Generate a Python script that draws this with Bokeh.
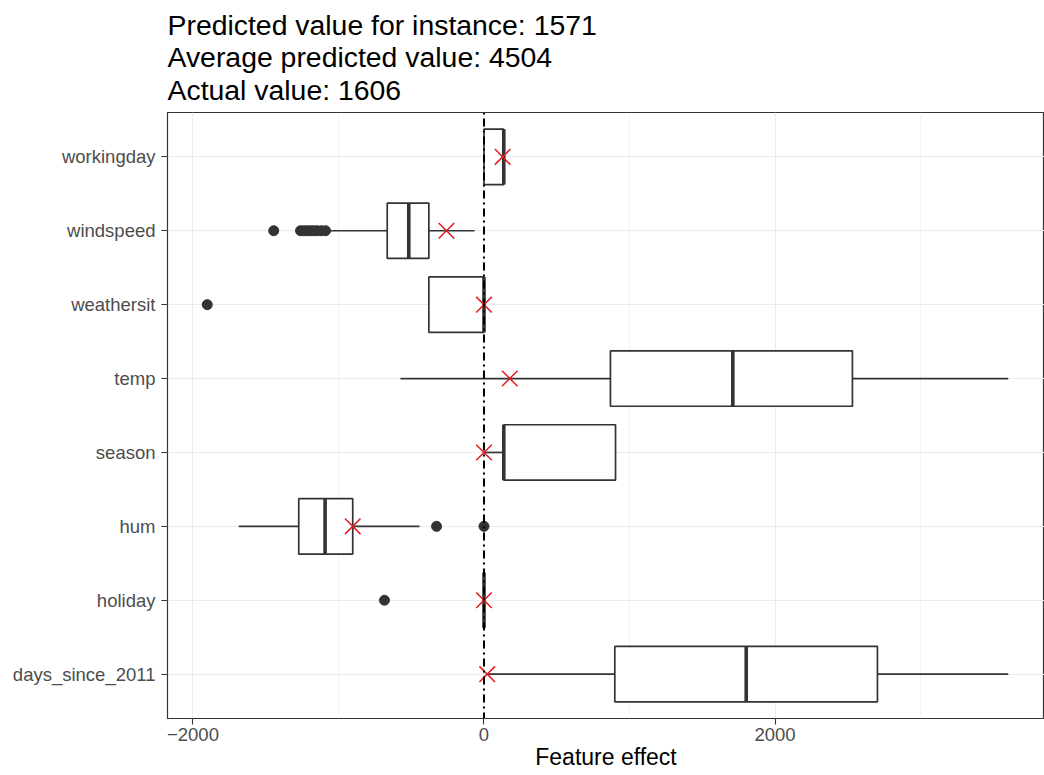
import numpy as np
from bokeh.plotting import figure
from bokeh.models import ColumnDataSource, Span, FixedTicker, Title
from bokeh.embed import file_html
from bokeh.resources import INLINE

# ---------------- data ----------------
features = ["days_since_2011", "holiday", "hum", "season", "temp",
            "weathersit", "windspeed", "workingday"]
q1 = [899, 0, -1273, 136, 869, -379, -665, 0]
median = [1802, 0, -1092, 136, 1710, 0, -517, 136]
q3 = [2704, 0, -902, 904, 2532, 0, -379, 136]
whisker_lo = [25, 0, -1685, 0, -574, -379, -1067, 0]
whisker_hi = [3603, 0, -443, 904, 3603, 0, -65, 136]
instance_effect = [22, 0, -902, 0, 177, 0, -258, 128]

outlier_feature = ["windspeed"] * 9 + ["weathersit", "hum", "hum", "holiday"]
outlier_value = [-1445, -1261, -1238, -1215, -1192, -1170, -1147, -1118, -1089,
                 -1902, -326, 0, -684]

title_lines = ["Predicted value for instance: 1571",
               "Average predicted value: 4504",
               "Actual value: 1606"]
x_label = "Feature effect"
x_ticks = [-2000, 0, 2000]
x_minor = [-1000, 1000, 3000]

# ---------------- figure ----------------
ypos = list(range(1, len(features) + 1))
fpos = {f: i + 1 for i, f in enumerate(features)}
half = 0.375

x_start, x_end = -2175, 3852
p = figure(width=1044, height=775, output_backend="svg", toolbar_location=None,
           x_range=(x_start, x_end), y_range=(0.4, len(features) + 0.6),
           min_border_left=167, min_border_right=0, min_border_bottom=57,
           min_border_top=0)
p.title.visible = False

p.add_layout(Title(text="\n".join(title_lines), text_font="Liberation Sans",
                   text_font_size="28.4px", text_font_style="normal",
                   text_color="#000000", align="left", text_line_height=1.02,
                   standoff=13, offset=0), "above")

box_src = ColumnDataSource(dict(
    y=ypos, q1=q1, q3=q3, med=median, lo=whisker_lo, hi=whisker_hi,
    top=[v + half for v in ypos], bottom=[v - half for v in ypos],
    inst=instance_effect))

# grid
p.xgrid.ticker = FixedTicker(ticks=x_ticks, minor_ticks=x_minor)
p.xgrid.grid_line_color = "#ebebeb"
p.xgrid.grid_line_width = 1.1
p.xgrid.minor_grid_line_color = "#ebebeb"
p.xgrid.minor_grid_line_width = 0.6
p.ygrid.ticker = FixedTicker(ticks=ypos)
p.ygrid.grid_line_color = "#ebebeb"
p.ygrid.grid_line_width = 1.1

# whiskers
p.segment(x0="lo", y0="y", x1="q1", y1="y", source=box_src,
          line_color="#333333", line_width=1.7)
p.segment(x0="q3", y0="y", x1="hi", y1="y", source=box_src,
          line_color="#333333", line_width=1.7)
# boxes
p.quad(left="q1", right="q3", top="top", bottom="bottom", source=box_src,
       fill_color="white", line_color="#333333", line_width=1.7)
# medians
p.segment(x0="med", y0="bottom", x1="med", y1="top", source=box_src,
          line_color="#333333", line_width=3.6)
# outliers
p.scatter(x=outlier_value, y=[fpos[f] for f in outlier_feature], size=10,
          marker="circle", fill_color="#333333", line_color="#333333")

# zero line
p.add_layout(Span(location=0, dimension="height", line_color="black",
                  line_width=2, line_dash="2 4 8 4"))

# instance markers
p.scatter(x="inst", y="y", source=box_src, marker="x", size=22,
          line_color="#e31a1c", line_width=1.5)

# axes
p.yaxis.ticker = FixedTicker(ticks=ypos)
p.yaxis.major_label_overrides = {i + 1: f for i, f in enumerate(features)}
p.xaxis.ticker = FixedTicker(ticks=x_ticks, minor_ticks=x_minor)
for ax in (p.xaxis[0], p.yaxis[0]):
    ax.axis_line_color = None
    ax.major_tick_line_color = "#333333"
    ax.major_tick_line_width = 1.1
    ax.major_tick_in = 0
    ax.major_tick_out = 6
    ax.minor_tick_line_color = None
    ax.major_label_text_font = "Liberation Sans"
    ax.major_label_text_font_size = "18.5px"
    ax.major_label_text_color = "#4d4d4d"
p.yaxis.major_label_standoff = 6
p.xaxis.major_label_standoff = 3
p.xaxis.axis_label = x_label
p.xaxis.axis_label_text_font = "Liberation Sans"
p.xaxis.axis_label_text_font_size = "23px"
p.xaxis.axis_label_text_font_style = "normal"
p.xaxis.axis_label_text_color = "#000000"
p.xaxis.axis_label_standoff = 0

p.outline_line_color = "#333333"
p.outline_line_width = 1.2

open("out.html", "w").write(file_html(p, INLINE))
